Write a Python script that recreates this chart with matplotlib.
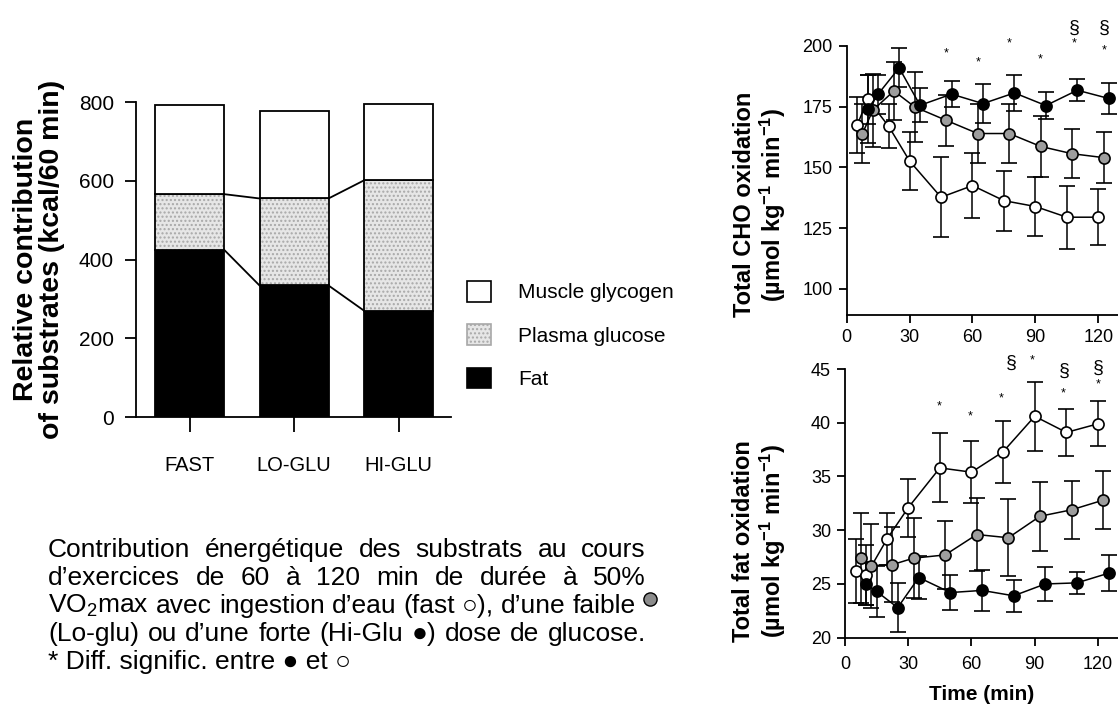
import matplotlib
matplotlib.use('Agg')
import matplotlib.pyplot as plt
from matplotlib.patches import Patch
from matplotlib.lines import Line2D

plt.rcParams['font.family'] = ['Liberation Sans', 'DejaVu Sans']
plt.rcParams['mathtext.fontset'] = 'custom'
plt.rcParams['mathtext.rm'] = 'Liberation Sans'
plt.rcParams['mathtext.it'] = 'Liberation Sans:italic'
plt.rcParams['mathtext.bf'] = 'Liberation Sans:bold'
plt.rcParams['axes.linewidth'] = 1.3

# ---------------- data: stacked bars ----------------
conditions = ['FAST', 'LO-GLU', 'HI-GLU']
fat_kcal = [425, 334, 270]
plasma_glucose_kcal = [141, 221, 331]
muscle_glycogen_kcal = [227, 222, 194]
bar_yticks = [0, 200, 400, 600, 800]
legend_labels = ['Muscle glycogen', 'Plasma glucose', 'Fat']

# ---------------- data: time courses ----------------
time_fast = [5, 10, 20, 30, 45, 60, 75, 90, 105, 120]
time_lo = [7.5, 12.5, 22.5, 32.5, 47.5, 62.5, 77.5, 92.5, 107.5, 122.5]
time_hi = [10, 15, 25, 35, 50, 65, 80, 95, 110, 125]

cho_fast = [167.3, 178.0, 166.9, 152.6, 137.7, 142.5, 136.3, 133.9, 129.5, 129.5]
cho_fast_err = [11.5, 10, 9, 12, 16.5, 13.5, 12.3, 12.2, 13, 11.6]
cho_lo = [163.9, 173.5, 181.4, 174.8, 169.3, 163.9, 163.9, 158.6, 155.6, 154.0]
cho_lo_err = [12, 15, 12, 14.5, 10.5, 12, 12.3, 12.5, 10, 10.5]
cho_hi = [173.8, 180.1, 190.9, 175.5, 180.1, 176.2, 180.6, 175.4, 181.7, 178.3]
cho_hi_err = [14, 8, 8, 7, 5.5, 8, 7.5, 5.5, 4.5, 6.5]

fat_fast = [26.2, 25.8, 29.2, 32.1, 35.8, 35.4, 37.3, 40.6, 39.1, 39.9]
fat_fast_err = [3.0, 2.8, 2.4, 2.7, 3.2, 2.9, 2.9, 3.2, 2.2, 2.1]
fat_lo = [27.4, 26.7, 26.8, 27.4, 27.7, 29.6, 29.3, 31.3, 31.9, 32.8]
fat_lo_err = [4.2, 3.9, 3.5, 3.75, 3.2, 3.4, 3.6, 3.2, 2.7, 2.7]
fat_hi = [25.0, 24.3, 22.8, 25.6, 24.2, 24.4, 23.9, 25.0, 25.1, 26.0]
fat_hi_err = [2.0, 2.4, 2.3, 2.0, 1.6, 1.9, 1.5, 1.6, 1.0, 1.7]

cho_star_x = [47.5, 62.5, 77.5, 92.5, 108.5, 123]
cho_star_y = [197, 193, 201, 194.4, 201, 198.2]
cho_sect_x = [108.5, 123]
cho_sect_y = [207, 207]
fat_star_x = [44.5, 59.5, 74, 89, 103.5, 120]
fat_star_y = [41.5, 40.6, 42.3, 45.8, 42.7, 43.6]
fat_sect_x = [79, 104, 120]
fat_sect_y = [45.5, 44.8, 45.1]

time_ticks = [0, 30, 60, 90, 120]
cho_yticks = [100, 125, 150, 175, 200]
fat_yticks = [20, 25, 30, 35, 40, 45]

caption_lines = [
    'Contribution énergétique des substrats au cours',
    'd\u2019exercices de 60 à 120 min de durée à 50%',
    'VO$_2$max avec ingestion d\u2019eau (fast \u25cb), d\u2019une faible',
    '(Lo-glu) ou d\u2019une forte (Hi-Glu \u25cf) dose de glucose.',
    '* Diff. signific. entre \u25cf et \u25cb',
]

W, H = 1118, 711
fig = plt.figure(figsize=(W / 100, H / 100), dpi=100)

# ---------------- left: stacked bars ----------------
ax = fig.add_axes([136 / W, 1 - 417 / H, 315 / W, 315 / H])
x = list(range(len(conditions)))
bw = 0.66
bottom_pg = fat_kcal
bottom_mg = [f + p for f, p in zip(fat_kcal, plasma_glucose_kcal)]
ax.bar(x, fat_kcal, width=bw, color='black', edgecolor='black', lw=1.3)
ax.bar(x, plasma_glucose_kcal, bottom=bottom_pg, width=bw, color='#e6e6e6',
       edgecolor='#a8a8a8', hatch='....', lw=0)
ax.bar(x, plasma_glucose_kcal, bottom=bottom_pg, width=bw, facecolor='none',
       edgecolor='black', lw=1.3)
ax.bar(x, muscle_glycogen_kcal, bottom=bottom_mg, width=bw, color='white',
       edgecolor='black', lw=1.3)
for i in range(len(x) - 1):
    ax.plot([x[i] + bw / 2, x[i + 1] - bw / 2], [fat_kcal[i], fat_kcal[i + 1]],
            color='black', lw=1.3)
    ax.plot([x[i] + bw / 2, x[i + 1] - bw / 2], [bottom_mg[i], bottom_mg[i + 1]],
            color='black', lw=1.3)
ax.set_xlim(-0.512, 2.502)
ax.set_ylim(0, 800)
ax.set_xticks(x)
ax.set_xticklabels(conditions, fontsize=14.5)
ax.set_yticks(bar_yticks)
ax.tick_params(axis='y', labelsize=15, length=8, width=1.3, pad=8)
ax.tick_params(axis='x', length=11, width=1.3, pad=17)
for s in ['top', 'right']:
    ax.spines[s].set_visible(False)
ax.set_ylabel('Relative contribution\nof substrates (kcal/60 min)', fontsize=20.5,
              fontweight='bold', linespacing=1.0)
ax.yaxis.set_label_coords(-0.225, 0.5)

handles = [Patch(facecolor='white', edgecolor='black', lw=1.2),
           Patch(facecolor='#e6e6e6', edgecolor='#a8a8a8', hatch='....', lw=1.2),
           Patch(facecolor='black', edgecolor='black', lw=1.2)]
fig.legend(handles, legend_labels, loc='upper left',
           bbox_to_anchor=(467 / W, 1 - 281 / H), frameon=False, fontsize=15,
           handlelength=1.15, handleheight=1.15, handletextpad=1.3,
           labelspacing=1.05, borderpad=0, borderaxespad=0)


# ---------------- right: time courses ----------------
def style_right(a):
    for s in ['top', 'right']:
        a.spines[s].set_visible(False)
    a.tick_params(labelsize=13, length=6, width=1.3, pad=4)
    a.set_xticks(time_ticks)


def draw_series(a, t, y, e, face):
    a.errorbar(t, y, yerr=e, fmt='-o', color='black', mfc=face, mec='black',
               ms=8, mew=1.2, lw=1.1, elinewidth=1.1, capsize=5.5, capthick=1.1,
               clip_on=False)


ax1 = fig.add_axes([846.7 / W, 1 - 315 / H, 1 - 846.7 / W, (315 - 45.7) / H])
draw_series(ax1, time_fast, cho_fast, cho_fast_err, 'white')
draw_series(ax1, time_lo, cho_lo, cho_lo_err, '#9d9d9d')
draw_series(ax1, time_hi, cho_hi, cho_hi_err, 'black')
ax1.set_xlim(0, 129.4)
ax1.set_ylim(89.3, 200)
ax1.set_yticks(cho_yticks)
style_right(ax1)
for xs, ys in zip(cho_star_x, cho_star_y):
    ax1.text(xs, ys, '*', fontsize=9, ha='center', va='center', clip_on=False)
for xs, ys in zip(cho_sect_x, cho_sect_y):
    ax1.text(xs, ys, '§', fontsize=14, ha='center', va='center', clip_on=False)
ax1.set_ylabel('Total CHO oxidation\n(\u00b5mol kg$^{\\mathbf{-1}}$ min$^{\\mathbf{-1}}$)',
               fontsize=17, fontweight='bold', linespacing=1.1)
ax1.yaxis.set_label_coords(-0.215, 0.41)

ax2 = fig.add_axes([845 / W, 1 - 637.7 / H, 1 - 845 / W, 268.7 / H])
draw_series(ax2, time_fast, fat_fast, fat_fast_err, 'white')
draw_series(ax2, time_lo, fat_lo, fat_lo_err, '#9d9d9d')
draw_series(ax2, time_hi, fat_hi, fat_hi_err, 'black')
ax2.set_xlim(0, 129.5)
ax2.set_ylim(20, 45)
ax2.set_yticks(fat_yticks)
style_right(ax2)
ax2.tick_params(axis='x', pad=7)
for xs, ys in zip(fat_star_x, fat_star_y):
    ax2.text(xs, ys, '*', fontsize=9, ha='center', va='center', clip_on=False)
for xs, ys in zip(fat_sect_x, fat_sect_y):
    ax2.text(xs, ys, '§', fontsize=14, ha='center', va='center', clip_on=False)
ax2.set_ylabel('Total fat oxidation\n(\u00b5mol kg$^{\\mathbf{-1}}$ min$^{\\mathbf{-1}}$)',
               fontsize=17, fontweight='bold', linespacing=1.1)
ax2.yaxis.set_label_coords(-0.21, 0.36)
ax2.set_xlabel('Time (min)', fontsize=15, fontweight='bold', labelpad=9)

# ---------------- caption (justified) ----------------
renderer = fig.canvas.get_renderer()
x0_px = 48
right_edges = [646, 646, 636, 646]
baselines = [557, 585, 613, 641, 669]
cap_fs = 19


def put_line(text, y_px, x1_px):
    yf = 1 - y_px / H
    if x1_px is None:
        fig.text(x0_px / W, yf, text, fontsize=cap_fs, ha='left', va='baseline')
        return
    words = text.split(' ')
    arts = [fig.text(0, yf, w, fontsize=cap_fs, ha='left', va='baseline') for w in words]
    widths = [a.get_window_extent(renderer).width for a in arts]
    gap = ((x1_px - x0_px) - sum(widths)) / (len(words) - 1)
    pos = x0_px
    for a, w in zip(arts, widths):
        a.set_x(pos / W)
        pos += w + gap


for i, line in enumerate(caption_lines):
    put_line(line, baselines[i], right_edges[i] if i < len(right_edges) else None)

fig.add_artist(Line2D([650 / W], [1 - 599 / H], marker='o', ms=9.5, mfc='#8c8c8c',
                      mec='black', mew=1.0, transform=fig.transFigure))

fig.savefig('out.png', dpi=100)
